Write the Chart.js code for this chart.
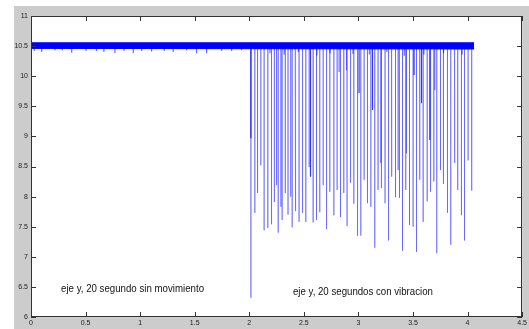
<!DOCTYPE html>
<html>
<head>
<meta charset="utf-8">
<script src="https://cdn.jsdelivr.net/npm/chart.js@4.4.1/dist/chart.umd.min.js"></script>
<style>
html,body{margin:0;padding:0;background:#fff;overflow:hidden;}
canvas{display:block;}
</style>
</head>
<body>
<canvas id="c" width="529" height="329"></canvas>
<script>
// ---- data ----
const xTicks = [0, 0.5, 1, 1.5, 2, 2.5, 3, 3.5, 4, 4.5];
const xTickLabels = ["0", "0.5", "1", "1.5", "2", "2.5", "3", "3.5", "4", "4.5"];
const yTicks = [6, 6.5, 7, 7.5, 8, 8.5, 9, 9.5, 10, 10.5, 11];
const yTickLabels = ["6", "6.5", "7", "7.5", "8", "8.5", "9", "9.5", "10", "10.5", "11"];

// dense signal band (top/bottom envelope) from start to end of record
const bandX = [0, 4.06];
const bandTop = [10.555, 10.555];
const bandBottom = [10.462, 10.452];
const baseLevel = 10.5;

// small dips below the band
const dipX = [0.03, 0.098, 0.22, 0.287, 0.373, 0.504, 0.60, 0.668, 0.769, 0.852, 0.937, 1.014, 1.105, 1.221, 1.303, 1.426, 1.517, 1.609, 1.746, 1.838, 1.929,
              2.19, 2.32, 2.45, 2.62, 2.74, 2.95, 3.10, 3.26, 3.42, 3.60, 3.78, 3.95];
const dipMin = [10.42, 10.40, 10.43, 10.43, 10.39, 10.42, 10.42, 10.40, 10.38, 10.42, 10.38, 10.42, 10.41, 10.42, 10.40, 10.43, 10.38, 10.38, 10.42, 10.42, 10.43,
              10.38, 10.36, 10.40, 10.35, 10.38, 10.37, 10.36, 10.40, 10.34, 10.36, 10.38, 10.36];

// darker (overlapping) spikes
const darkSpikeX = [2.015, 2.561, 3.006, 3.129, 3.510, 3.578, 3.654];
const darkSpikeMin = [8.97, 8.33, 9.72, 9.44, 10.02, 9.55, 8.94];

// light spikes during vibration
const spikeX = [2.015, 2.051, 2.076, 2.106, 2.136, 2.170, 2.204, 2.230, 2.250, 2.265, 2.290, 2.301, 2.330, 2.355, 2.380, 2.393, 2.420, 2.427, 2.456, 2.488,
  2.518, 2.549, 2.585, 2.616, 2.646, 2.677, 2.708, 2.738, 2.775, 2.805, 2.823, 2.836, 2.866, 2.891, 2.896, 2.928, 2.958, 2.992, 3.022, 3.052,
  3.083, 3.114, 3.150, 3.180, 3.205, 3.211, 3.244, 3.276, 3.303, 3.306, 3.340, 3.364, 3.373, 3.379, 3.404, 3.434, 3.440, 3.468, 3.501, 3.532,
  3.562, 3.593, 3.630, 3.661, 3.691, 3.700, 3.718, 3.752, 3.779, 3.816, 3.846, 3.880, 3.883, 3.910, 3.944, 3.972, 4.005, 4.038];
const spikeMin = [6.32, 7.73, 8.06, 8.52, 7.44, 7.48, 7.54, 7.91, 8.19, 7.40, 7.83, 7.61, 8.06, 7.70, 8.00, 7.49, 8.23, 7.76, 7.58, 7.73,
  7.58, 8.49, 7.57, 7.61, 7.74, 8.19, 7.46, 8.08, 7.69, 8.11, 10.07, 7.66, 8.06, 10.10, 7.51, 8.23, 7.88, 7.35, 7.35, 8.28,
  7.89, 7.83, 7.15, 8.11, 8.56, 8.14, 7.89, 7.27, 8.69, 8.33, 7.99, 8.44, 7.98, 9.99, 7.10, 8.11, 8.72, 7.53, 7.50, 7.08,
  8.28, 7.58, 7.92, 8.08, 8.25, 9.77, 7.06, 8.44, 8.21, 7.73, 7.20, 8.56, 8.69, 8.11, 7.69, 7.27, 8.60, 8.10];

const annotations = [
  { text: "eje y, 20 segundo sin movimiento", x: 0.275, y: 6.465, width: 143 },
  { text: "eje y, 20 segundos con vibracion", x: 2.40, y: 6.42, width: 140 }
];

// ---- build datasets ----
function spikePath(xs, mins) {
  const pts = [];
  xs.forEach((x, i) => {
    pts.push({ x: x, y: baseLevel });
    pts.push({ x: x, y: mins[i] });
    pts.push({ x: x, y: baseLevel });
  });
  return pts;
}

const BLUE = '#0000ff';
const datasets = [
  { data: bandX.map((x, i) => ({ x: x, y: bandTop[i] })), borderColor: BLUE, backgroundColor: BLUE, borderWidth: 1, fill: '+1', showLine: true, pointRadius: 0 },
  { data: bandX.map((x, i) => ({ x: x, y: bandBottom[i] })), borderColor: BLUE, borderWidth: 1, fill: false, showLine: true, pointRadius: 0 },
  { data: spikePath(dipX, dipMin), borderColor: 'rgba(0,0,255,0.6)', borderWidth: 1.2, showLine: true, pointRadius: 0, fill: false },
  { data: spikePath(darkSpikeX, darkSpikeMin), borderColor: 'rgba(0,0,255,0.8)', borderWidth: 1.2, showLine: true, pointRadius: 0, fill: false },
  { data: spikePath(spikeX, spikeMin), borderColor: 'rgba(40,40,255,0.45)', borderWidth: 1, showLine: true, pointRadius: 0, fill: false }
];

const GRAY = '#cccccc';
const frame = {
  id: 'frame',
  beforeDraw(chart) {
    const ctx = chart.ctx, a = chart.chartArea;
    ctx.save();
    ctx.fillStyle = '#ffffff';
    ctx.fillRect(0, 0, chart.width, chart.height);
    ctx.fillStyle = GRAY;
    ctx.fillRect(14, 6, chart.width - 14, chart.height - 6);
    ctx.fillStyle = '#ffffff';
    ctx.fillRect(a.left, a.top, a.right - a.left, a.bottom - a.top);
    ctx.restore();
  },
  afterDatasetsDraw(chart) {
    const ctx = chart.ctx, a = chart.chartArea;
    const xs = chart.scales.x, ys = chart.scales.y;
    ctx.save();
    ctx.strokeStyle = '#333';
    ctx.lineWidth = 1;
    ctx.strokeRect(Math.round(a.left) + 0.5, Math.round(a.top) + 0.5, Math.round(a.right - a.left) - 1, Math.round(a.bottom - a.top) - 1);
    const L = 5;
    ctx.beginPath();
    xTicks.forEach(v => {
      const p = Math.round(xs.getPixelForValue(v)) + 0.5;
      ctx.moveTo(p, a.bottom); ctx.lineTo(p, a.bottom - L);
      ctx.moveTo(p, a.top); ctx.lineTo(p, a.top + L);
    });
    yTicks.forEach(v => {
      const p = Math.round(ys.getPixelForValue(v)) + 0.5;
      ctx.moveTo(a.left, p); ctx.lineTo(a.left + L, p);
      ctx.moveTo(a.right, p); ctx.lineTo(a.right - L, p);
    });
    ctx.stroke();
    // annotations
    ctx.fillStyle = '#111';
    ctx.font = '11px "Liberation Sans Narrow", "Liberation Sans", Arial, sans-serif';
    ctx.textBaseline = 'middle';
    ctx.textAlign = 'left';
    annotations.forEach(t => {
      const px = xs.getPixelForValue(t.x), py = ys.getPixelForValue(t.y);
      const w = ctx.measureText(t.text).width;
      const s = t.width / w;
      ctx.save();
      ctx.translate(px, py);
      ctx.scale(s, 1);
      ctx.fillText(t.text, 0, 0);
      ctx.restore();
    });
    ctx.restore();
  }
};

new Chart(document.getElementById('c'), {
  type: 'scatter',
  data: { datasets: datasets },
  options: {
    responsive: false,
    animation: false,
    devicePixelRatio: 1,
    layout: { padding: { left: 14, top: 16, right: 6, bottom: 0 } },
    plugins: { legend: { display: false }, tooltip: { enabled: false } },
    elements: { line: { tension: 0 } },
    scales: {
      x: {
        type: 'linear', min: 0, max: 4.5, position: 'bottom',
        grid: { display: false, drawTicks: false, tickLength: 0 }, border: { display: false },
        afterBuildTicks: s => { s.ticks = xTicks.map(v => ({ value: v })); },
        afterFit: s => { s.height = 12; },
        ticks: {
          padding: 2, maxRotation: 0, autoSkip: false, color: '#222',
          font: { family: 'Liberation Sans, Arial, sans-serif', size: 7 },
          callback: (v) => xTickLabels[xTicks.indexOf(v)]
        }
      },
      y: {
        type: 'linear', min: 6, max: 11,
        grid: { display: false, drawTicks: false, tickLength: 0 }, border: { display: false },
        afterBuildTicks: s => { s.ticks = yTicks.map(v => ({ value: v })); },
        afterFit: s => { s.width = 17; },
        ticks: {
          padding: 3, autoSkip: false, color: '#222',
          font: { family: 'Liberation Sans, Arial, sans-serif', size: 7 },
          callback: (v) => yTickLabels[yTicks.indexOf(v)]
        }
      }
    }
  },
  plugins: [frame]
});
</script>
</body>
</html>
